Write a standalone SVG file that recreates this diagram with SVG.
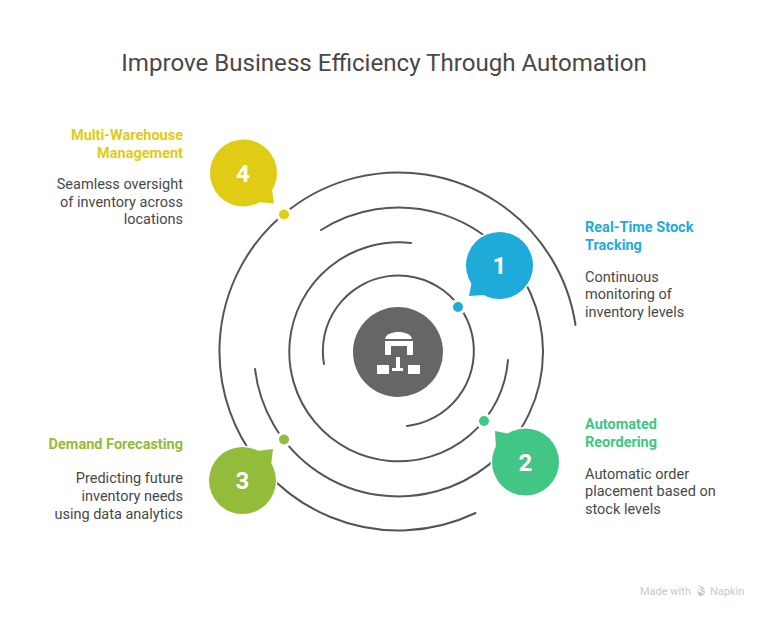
<svg xmlns="http://www.w3.org/2000/svg" width="768" height="618" viewBox="0 0 768 618">
<style>
text{font-family:Roboto,"Liberation Sans",sans-serif}
.title{font-size:24.100px;fill:#484848;text-anchor:middle}
.h{font-size:14.500px;font-weight:700}
.b{font-size:14.500px;fill:#484848}
.e{text-anchor:end}
.n{font-size:24px;font-weight:700;fill:#fff;text-anchor:middle}
.ring{fill:none;stroke:#555;stroke-width:2;stroke-linecap:round}
.halo{fill:#fff;stroke:#fff;stroke-width:3}
.dot{stroke:#fff;stroke-width:3}
.y{fill:#E0CB15}.c{fill:#1EABDA}.g{fill:#41C686}.l{fill:#92BC39}
.wm{font-size:11px;fill:#c9c9c9}
</style>
<rect width="768" height="618" fill="#fff"/>
<text class="title" x="384" y="71">Improve Business Efficiency Through Automation</text>
<g id="connectors">
<path class="ring" d="M324 364A75.500 75.500 0 1 1 407 426"/>
<path class="ring" d="M411 243A109.500 109.500 0 1 0 508 360"/>
<path class="ring" d="M321 230A144.500 144.500 0 1 1 255 369"/>
<path class="ring" d="M575.500 325A179 179 0 1 0 475.500 513"/>
</g>
<g id="center">
<circle cx="398" cy="352" r="45" fill="#666"/>
<path fill="#fff" d="M385 339C386 334 392 332 398.500 332C405 332 411 334 412 339ZM385 341H413V355H407V346H391V355H385ZM396 357H400V368H403V371H392V368H396ZM377 365H389V374H377ZM408 365H420V374H408Z"/>
</g>
<g id="node-1">
<circle class="halo" cx="499.500" cy="265.500" r="33.500"/>
<circle class="c" cx="499.500" cy="265.500" r="33.500"/>
<path class="c" d="M469 296L472 281L485 295Z"/>
<text class="n" x="499.500" y="274">1</text>
<circle class="c dot" cx="458" cy="307" r="6.500"/>
<text class="h" x="585" y="232" fill="#1EABDA">Real-Time Stock</text>
<text class="h" x="585" y="250" fill="#1EABDA">Tracking</text>
<text class="b" x="585" y="282">Continuous</text>
<text class="b" x="585" y="299">monitoring of</text>
<text class="b" x="585" y="317">inventory levels</text>
</g>
<g id="node-2">
<circle class="halo" cx="525.500" cy="462" r="33.500"/>
<circle class="g" cx="525.500" cy="462" r="33.500"/>
<path class="g" d="M495 431L510 434L496 449Z"/>
<text class="n" x="525.500" y="470.500">2</text>
<circle class="g dot" cx="484" cy="421" r="6.500"/>
<text class="h" x="585" y="429" fill="#41C686">Automated</text>
<text class="h" x="585" y="447" fill="#41C686">Reordering</text>
<text class="b" x="585" y="479">Automatic order</text>
<text class="b" x="585" y="496">placement based on</text>
<text class="b" x="585" y="514">stock levels</text>
</g>
<g id="node-3">
<circle class="halo" cx="242.500" cy="480.500" r="33.500"/>
<circle class="l" cx="242.500" cy="480.500" r="33.500"/>
<path class="l" d="M273 449L257 451L271 465Z"/>
<text class="n" x="242.500" y="489">3</text>
<circle class="l dot" cx="284" cy="439.500" r="6.500"/>
<text class="h e" x="183" y="449" fill="#92BC39">Demand Forecasting</text>
<text class="b e" x="183" y="483">Predicting future</text>
<text class="b e" x="183" y="501">inventory needs</text>
<text class="b e" x="183" y="519">using data analytics</text>
</g>
<g id="node-4">
<circle class="halo" cx="243.500" cy="173" r="33.500"/>
<circle class="y" cx="243.500" cy="173" r="33.500"/>
<path class="y" d="M274 203.500L272 189L258 202Z"/>
<text class="n" x="243" y="181.500">4</text>
<circle class="y dot" cx="284" cy="214.500" r="6.500"/>
<text class="h e" x="183" y="140" fill="#E0CB15">Multi-Warehouse</text>
<text class="h e" x="183" y="158" fill="#E0CB15">Management</text>
<text class="b e" x="183" y="189">Seamless oversight</text>
<text class="b e" x="183" y="207">of inventory across</text>
<text class="b e" x="183" y="224">locations</text>
</g>
<g id="watermark">
<text class="wm" x="640" y="595">Made with</text>
<path fill="#c9c9c9" d="M698 585L701 586L705 589L703 590ZM697 588L700 589L706 592L704 593ZM697 591L700 592L705 594L701 596L699 596Z"/>
<text class="wm" x="710" y="595">Napkin</text>
</g>
</svg>
